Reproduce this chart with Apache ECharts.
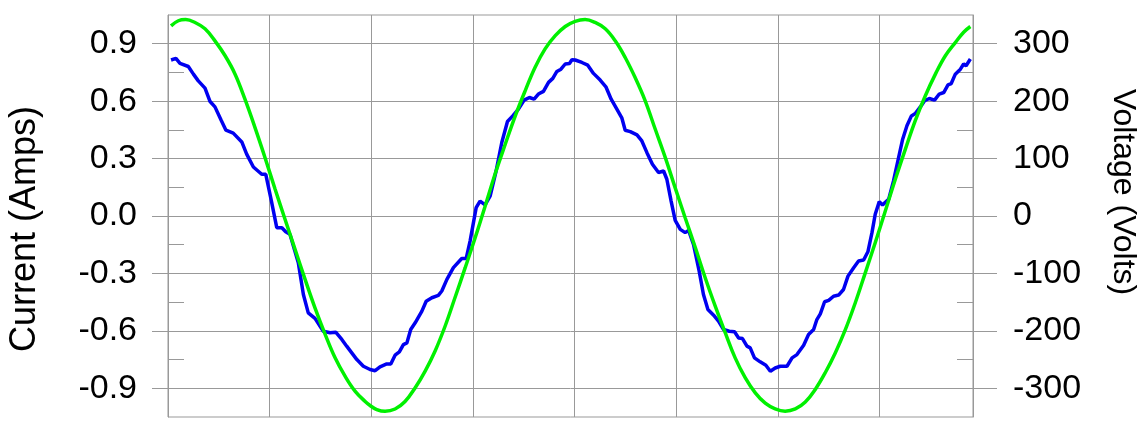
<!DOCTYPE html>
<html>
<head>
<meta charset="utf-8">
<style>
html,body{margin:0;padding:0;background:#fff;}
#chart{width:1141px;height:443px;}
</style>
<script src="https://cdn.jsdelivr.net/npm/echarts@6/dist/echarts.min.js"></script>
</head>
<body>
<div id="chart"></div>
<script>
// Time axis (ms)
const timeTicks = [0, 5, 10, 15, 20, 25, 30, 35];

// Current (A) — blue trace
const currentT = [
  0.15,0.39,0.59,1.00,1.25,1.49,1.82,2.07,2.31,2.61,
  2.85,3.21,3.63,3.87,4.20,4.61,4.81,5.07,5.35,5.60,
  5.79,6.00,6.41,6.66,6.90,7.23,7.64,7.97,8.25,8.55,
  8.79,9.04,9.29,9.61,9.94,10.19,10.43,10.76,10.96,11.17,
  11.38,11.58,11.75,11.94,12.16,12.49,12.70,12.98,13.30,13.47,
  13.72,14.04,14.45,14.67,14.86,15.16,15.35,15.60,15.85,16.14,
  16.42,16.70,16.96,17.24,17.52,17.78,18.01,18.22,18.47,18.72,
  18.93,19.13,19.33,19.54,19.75,19.87,20.03,20.36,20.65,20.93,
  21.26,21.54,21.80,22.08,22.33,22.49,22.74,23.07,23.31,23.56,
  23.83,24.13,24.38,24.54,24.75,24.95,25.20,25.44,25.61,25.85,
  26.13,26.34,26.56,26.84,27.08,27.33,27.61,27.87,28.07,28.26,
  28.48,28.64,28.85,29.13,29.41,29.63,29.87,30.12,30.45,30.70,
  30.94,31.27,31.51,31.76,31.92,32.09,32.30,32.50,32.74,32.99,
  33.23,33.45,33.73,33.97,34.22,34.43,34.63,34.79,34.99,35.15,
  35.45,35.69,35.94,36.14,36.35,36.57,36.76,37.01,37.22,37.45,
  37.71,37.94,38.16,38.37,38.53,38.73,38.98,39.14,39.26,39.47
];
const currentA = [
  0.815,0.823,0.797,0.781,0.741,0.706,0.668,0.598,0.570,0.501,
  0.448,0.433,0.387,0.323,0.256,0.218,0.218,0.087,-0.061,-0.061,
  -0.082,-0.096,-0.244,-0.410,-0.506,-0.535,-0.602,-0.610,-0.607,-0.645,
  -0.680,-0.715,-0.750,-0.785,-0.802,-0.808,-0.788,-0.773,-0.773,-0.727,
  -0.710,-0.672,-0.663,-0.593,-0.558,-0.497,-0.445,-0.427,-0.415,-0.392,
  -0.331,-0.270,-0.222,-0.222,-0.131,0.044,0.078,0.058,0.105,0.235,
  0.384,0.494,0.523,0.558,0.605,0.619,0.610,0.637,0.651,0.698,
  0.719,0.755,0.767,0.794,0.797,0.816,0.815,0.802,0.788,0.745,
  0.710,0.675,0.610,0.558,0.511,0.448,0.441,0.424,0.392,0.331,
  0.270,0.227,0.235,0.192,0.078,-0.023,-0.070,-0.087,-0.075,-0.148,
  -0.288,-0.410,-0.488,-0.518,-0.549,-0.593,-0.602,-0.605,-0.637,-0.640,
  -0.680,-0.689,-0.741,-0.762,-0.780,-0.811,-0.794,-0.785,-0.785,-0.741,
  -0.724,-0.675,-0.619,-0.593,-0.541,-0.511,-0.448,-0.441,-0.419,-0.413,
  -0.384,-0.314,-0.270,-0.235,-0.230,-0.187,-0.087,0.009,0.075,0.058,
  0.087,0.183,0.305,0.401,0.471,0.523,0.535,0.570,0.602,0.614,
  0.605,0.637,0.645,0.685,0.692,0.741,0.767,0.794,0.785,0.820
];

// Voltage (V) — green trace
const voltageT = [
  0.15,0.51,0.87,1.33,1.82,2.31,2.81,3.30,3.79,4.28,
  4.77,5.27,5.76,6.25,6.74,7.23,7.73,8.22,8.71,9.20,
  9.70,9.94,10.27,10.68,11.17,11.66,12.16,12.65,13.14,13.63,
  14.12,14.62,15.11,15.60,16.09,16.59,17.08,17.57,18.06,18.55,
  19.05,19.54,20.03,20.52,21.01,21.51,22.00,22.49,22.98,23.47,
  23.97,24.46,24.95,25.44,25.94,26.43,26.92,27.41,27.90,28.40,
  28.89,29.38,29.87,30.36,30.86,31.35,31.84,32.33,32.83,33.32,
  33.81,34.30,34.79,35.29,35.78,36.27,36.76,37.25,37.75,38.24,
  38.73,39.14,39.47
];
const voltageV = [
  331,340,342,337,326,305,279,247,203,154,
  102,46.5,-6,-58,-110,-160,-206,-247,-279,-305,
  -323,-330,-337,-340,-336,-323,-299,-270,-235,-192,
  -142,-90,-38,17,73,125,174,218,259,291,
  314,330,339,342,337,326,305,276,241,201,
  151,102,49,-3,-55,-108,-157,-203,-247,-282,
  -308,-326,-336,-340,-336,-324,-302,-273,-238,-198,
  -151,-99,-46.5,9,64,116,166,209,247,279,
  302,320,330
];

// Tick labels
const currentTicks = [-0.9, -0.6, -0.3, 0.0, 0.3, 0.6, 0.9];
const currentMinorTicks = [-0.75, -0.45, -0.15, 0.15, 0.45, 0.75];
const voltageTicks = [-300, -200, -100, 0, 100, 200, 300];
const voltageMinorTicks = [-250, -150, -50, 50, 150, 250];

const FONT = 'Liberation Sans, Arial, sans-serif';
const GRID = '#999999';

const chart = echarts.init(document.getElementById('chart'), null, {renderer: 'canvas'});

const currentData = currentT.map((t, i) => [t, currentA[i]]);
const voltageData = voltageT.map((t, i) => [t, voltageV[i]]);

const option = {
  animation: false,
  backgroundColor: '#ffffff',
  grid: {
    left: 168, right: 168, top: 15, bottom: 26,
    containLabel: false, outerBoundsMode: 'none',
    show: true, borderColor: GRID, borderWidth: 1, backgroundColor: 'transparent'
  },
  xAxis: [{
    type: 'value', min: 0, max: 39.6, interval: 5,
    axisLine: {show: true, lineStyle: {color: GRID, width: 1}},
    axisTick: {show: true, length: 30, lineStyle: {color: GRID, width: 1}},
    axisLabel: {show: false},
    splitLine: {show: true, lineStyle: {color: GRID, width: 1}}
  }],
  yAxis: [
    {
      type: 'value', position: 'left', min: -1.05, max: 1.05,
      name: 'Current (Amps)', nameLocation: 'middle', nameGap: 125,
      nameTextStyle: {fontSize: 36, fontFamily: FONT, color: '#000', padding: [0, 26, 0, 0]},
      axisLine: {show: true, lineStyle: {color: GRID}},
      axisTick: {show: true, length: 16, customValues: currentTicks, lineStyle: {color: GRID}},
      axisLabel: {
        customValues: currentTicks, margin: 31, fontSize: 34, fontFamily: FONT, color: '#000',
        formatter: v => Number(v).toFixed(1)
      },
      splitLine: {show: true, lineStyle: {color: GRID, width: 1}}
    },
    {
      type: 'value', position: 'right', min: -350, max: 350,
      name: 'Voltage (Volts)', nameLocation: 'middle', nameGap: 134, nameRotate: -90,
      nameTextStyle: {fontSize: 32, fontFamily: FONT, color: '#000', padding: [0, 48, 0, 0]},
      axisLine: {show: true, lineStyle: {color: GRID}},
      axisTick: {show: true, length: 24, customValues: voltageTicks, lineStyle: {color: GRID}},
      axisLabel: {
        customValues: voltageTicks, margin: 40, fontSize: 34, fontFamily: FONT, color: '#000',
        formatter: v => String(Math.round(v))
      },
      splitLine: {show: false}
    },
    {
      type: 'value', position: 'left', min: -1.05, max: 1.05,
      axisLine: {show: false},
      axisTick: {show: true, inside: true, length: 16, customValues: currentMinorTicks, lineStyle: {color: GRID}},
      axisLabel: {show: false},
      splitLine: {show: false}
    },
    {
      type: 'value', position: 'right', min: -350, max: 350,
      axisLine: {show: false},
      axisTick: {show: true, inside: true, length: 16, customValues: voltageMinorTicks, lineStyle: {color: GRID}},
      axisLabel: {show: false},
      splitLine: {show: false}
    }
  ],
  series: [
    {
      name: 'Current', type: 'line', yAxisIndex: 0, data: currentData,
      showSymbol: false, symbol: 'none', smooth: false,
      lineStyle: {color: '#0000F0', width: 3.5}, z: 2
    },
    {
      name: 'Voltage', type: 'line', yAxisIndex: 1, data: voltageData,
      showSymbol: false, symbol: 'none', smooth: 0.4,
      lineStyle: {color: '#00F000', width: 3.5}, z: 3
    }
  ]
};
chart.setOption(option);
</script>
</body>
</html>
